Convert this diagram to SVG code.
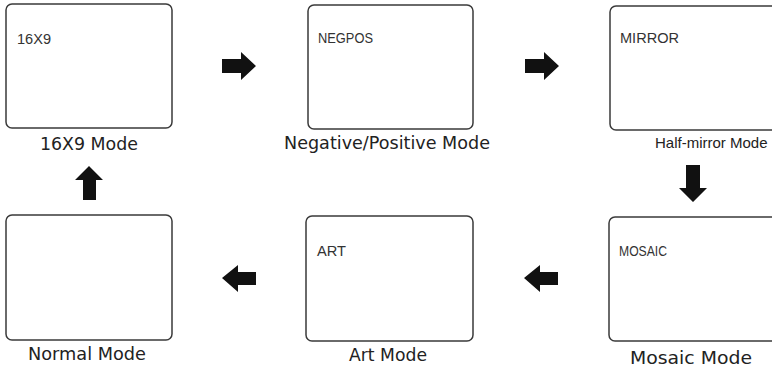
<svg xmlns="http://www.w3.org/2000/svg" width="772" height="368" viewBox="0 0 772 368">
<style>
.box{fill:#fff;stroke:#3a3a3a;stroke-width:1.5}
.in{font-family:"Liberation Sans",Arial,sans-serif;font-size:14px;fill:#333}
.lbl{font-family:"DejaVu Sans","Liberation Sans",sans-serif;font-size:17px;fill:#222}
.arr{fill:#111}
</style>
<rect width="772" height="368" fill="#fff"/>
<g id="node-16x9">
<rect class="box" x="6" y="4" width="166" height="124" rx="6"/>
<text class="in" x="17" y="44" textLength="34" lengthAdjust="spacingAndGlyphs">16X9</text>
<text class="lbl" x="40" y="150" textLength="98" lengthAdjust="spacingAndGlyphs">16X9 Mode</text>
</g>
<g id="node-negpos">
<rect class="box" x="308" y="5" width="165" height="124" rx="6"/>
<text class="in" x="318" y="43" textLength="55" lengthAdjust="spacingAndGlyphs">NEGPOS</text>
<text class="lbl" x="284" y="149" textLength="206" lengthAdjust="spacingAndGlyphs">Negative/Positive Mode</text>
</g>
<g id="node-mirror">
<rect class="box" x="610" y="6" width="180" height="124" rx="6"/>
<text class="in" x="620" y="43" textLength="59" lengthAdjust="spacingAndGlyphs">MIRROR</text>
<text x="655" y="148" font-family="Liberation Sans, Arial, sans-serif" font-size="15" fill="#222">Half-mirror Mode</text>
</g>
<g id="node-mosaic">
<rect class="box" x="609" y="217" width="180" height="124" rx="6"/>
<text class="in" x="619" y="256" textLength="48" lengthAdjust="spacingAndGlyphs">MOSAIC</text>
<text class="lbl" x="630" y="364" textLength="122" lengthAdjust="spacingAndGlyphs">Mosaic Mode</text>
</g>
<g id="node-art">
<rect class="box" x="306" y="216" width="167" height="125" rx="6"/>
<text class="in" x="317" y="256" textLength="29" lengthAdjust="spacingAndGlyphs">ART</text>
<text class="lbl" x="349" y="361" textLength="78" lengthAdjust="spacingAndGlyphs">Art Mode</text>
</g>
<g id="node-normal">
<rect class="box" x="6" y="215" width="166" height="125" rx="6"/>
<text class="lbl" x="28" y="360" textLength="118" lengthAdjust="spacingAndGlyphs">Normal Mode</text>
</g>
<g id="connectors">
<polygon class="arr" points="222,59 241,59 241,52 256,66 241,80 241,73 222,73"/>
<polygon class="arr" points="525,59 544,59 544,52 559,66 544,80 544,73 525,73"/>
<polygon class="arr" points="686,165 700,165 700,188 707,188 693,202 679,188 686,188"/>
<polygon class="arr" points="558,272 540,272 540,265 524,278 540,292 540,285 558,285"/>
<polygon class="arr" points="256,272 238,272 238,265 222,278 238,292 238,285 256,285"/>
<polygon class="arr" points="83,200 96,200 96,180 103,180 89,166 75,180 83,180"/>
</g>
</svg>
